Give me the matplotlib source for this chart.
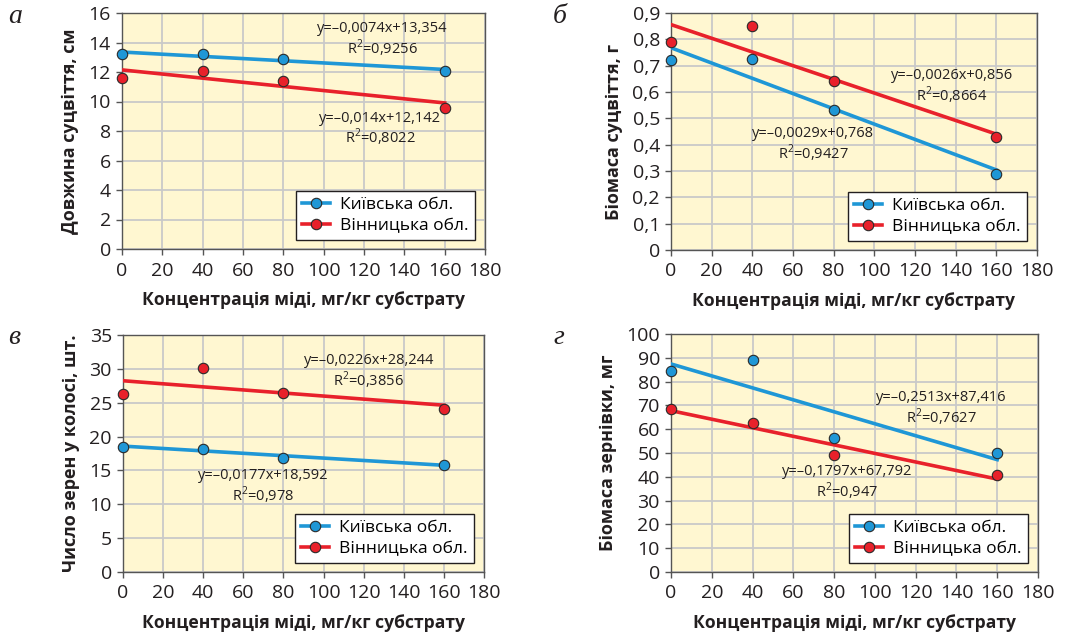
import matplotlib
matplotlib.use("Agg")
import matplotlib.pyplot as plt
import numpy as np

plt.rcParams['font.family'] = ['Open Sans', 'DejaVu Sans']
plt.rcParams['mathtext.fontset'] = 'custom'
plt.rcParams['mathtext.rm'] = 'Open Sans'

# concentration of copper, mg/kg
conc = [0, 40, 80, 160]

# panel а - inflorescence length, cm
len_kyiv = [13.25, 13.2, 12.9, 12.1]
len_vinn = [11.6, 12.05, 11.4, 9.55]
# panel б - inflorescence biomass, g
bio_kyiv = [0.72, 0.725, 0.53, 0.29]
bio_vinn = [0.79, 0.85, 0.64, 0.43]
# panel в - grains per ear
grain_kyiv = [18.5, 18.1, 16.9, 15.8]
grain_vinn = [26.3, 30.1, 26.5, 24.1]
# panel г - grain biomass, mg
gbio_kyiv = [84.5, 89.0, 56.3, 50.0]
gbio_vinn = [68.5, 62.5, 49.3, 40.7]

# trend lines (slope, intercept) as printed on the chart
trend_kyiv = [(-0.0074, 13.354), (-0.0029, 0.768), (-0.0177, 18.592), (-0.2513, 87.416)]
trend_vinn = [(-0.014, 12.142), (-0.0026, 0.856), (-0.0226, 28.244), (-0.1797, 67.792)]
r2_kyiv = ["0,9256", "0,9427", "0,978", "0,7627"]
r2_vinn = ["0,8022", "0,8664", "0,3856", "0,947"]

ylabels = ["Довжина суцвіття, см", "Біомаса суцвіття, г",
           "Число зерен у колосі, шт.", "Біомаса зернівки, мг"]
letters = ["а", "б", "в", "г"]
xlabel = "Концентрація міді, мг/кг субстрату"
legend_names = ["Київська обл.", "Вінницька обл."]

ylims = [(0, 16, 2), (0, 0.9, 0.1), (0, 35, 5), (0, 100, 10)]

BLUE = "#1f97d6"
RED = "#e8212b"
BG = "#fff7d1"
INK = "#231f20"

W, H = 1075, 634
fig = plt.figure(figsize=(W / 100, H / 100), dpi=100)

# axes boxes in pixels: left, top, right, bottom
boxes = [(122, 13, 485, 249), (671, 13, 1037, 250),
         (123, 335, 484, 572), (671, 334, 1038, 572)]
# label positions (data coords): kyiv eq, vinn eq
eq_pos = [((129, 14.15), (128, 8.1)),
          ((70, 0.40), (138, 0.62)),
          ((70, 12.6), (122.6, 29.6)),
          ((132.4, 68.3), (86.3, 37.2))]
letter_pos = [(8, 4), (553, 4), (8, 325), (553, 325)]


def fmt(v):
    return ("%g" % v).replace(".", ",").replace("-", "–")


def eq_text(slope, icpt, r2):
    return "y=%sx+%s\nR$^{2}$=%s" % (fmt(slope), fmt(icpt), r2)


datasets = [(len_kyiv, len_vinn), (bio_kyiv, bio_vinn),
            (grain_kyiv, grain_vinn), (gbio_kyiv, gbio_vinn)]

for i in range(4):
    l, t, r, b = boxes[i]
    ax = fig.add_axes([l / W, 1 - b / H, (r - l) / W, (b - t) / H])
    ax.set_facecolor(BG)
    lo, hi, step = ylims[i]
    ax.set_xlim(0, 180)
    ax.set_ylim(lo, hi)
    ax.set_xticks(np.arange(0, 181, 20))
    yt = np.arange(lo, hi + step / 2, step)
    ax.set_yticks(yt)
    if step < 1:
        ax.set_yticklabels([("%.1f" % v).replace(".", ",") if v != 0 else "0" for v in yt])
    ax.grid(True, color="#c9c9c9", lw=1.3)
    ax.set_axisbelow(True)
    for s in ax.spines.values():
        s.set_color("#555555")
        s.set_linewidth(1.0)
    ax.tick_params(labelsize=14, color="#555555", length=4, width=1,
                   labelcolor=INK)
    ax.tick_params(axis="x", pad=5)
    ax.tick_params(axis="y", pad=4)

    xs = np.array([conc[0], conc[-1]])
    sk, ik = trend_kyiv[i]
    sv, iv = trend_vinn[i]
    ax.plot(xs, sk * xs + ik, color=BLUE, lw=2.6, zorder=3)
    ax.plot(xs, sv * xs + iv, color=RED, lw=2.6, zorder=3)

    dk, dv = datasets[i]
    ax.plot(conc, dk, "o", color=BLUE, mec="#2a2a2a", mew=0.8, ms=7.5, zorder=4,
            clip_on=False)
    ax.plot(conc, dv, "o", color=RED, mec="#2a2a2a", mew=0.8, ms=7.5, zorder=4,
            clip_on=False)

    # legend handles
    hk, = ax.plot([], [], "-o", color=BLUE, mfc=BLUE, mec="#2a2a2a", mew=0.8,
                  ms=7.5, lw=2.6)
    hv, = ax.plot([], [], "-o", color=RED, mfc=RED, mec="#2a2a2a", mew=0.8,
                  ms=7.5, lw=2.6)
    leg = ax.legend([hk, hv], legend_names, loc="lower right",
                    bbox_to_anchor=(0.972, 0.038), borderaxespad=0,
                    fontsize=12.5, fancybox=False, framealpha=1,
                    edgecolor=INK, handlelength=1.6, borderpad=0.35,
                    labelspacing=0.25, handletextpad=0.6)
    leg.get_frame().set_linewidth(1.0)

    (xk, yk), (xv, yv) = eq_pos[i]
    ax.text(xk, yk, eq_text(sk, ik, r2_kyiv[i]), ha="center", va="center",
            fontsize=10.5, color=INK, linespacing=1.1, zorder=5)
    ax.text(xv, yv, eq_text(sv, iv, r2_vinn[i]), ha="center", va="center",
            fontsize=10.5, color=INK, linespacing=1.1, zorder=5)

    ax.set_xlabel(xlabel, fontsize=12.6, fontweight="bold", color=INK,
                  labelpad=8)
    ax.set_ylabel(ylabels[i], fontsize=13, fontweight="bold", color=INK,
                  labelpad=7)

    lx, ly = letter_pos[i]
    fig.text(lx / W, 1 - ly / H, letters[i], ha="left", va="top",
             fontsize=20, style="italic", family="Liberation Serif",
             color=INK)

fig.savefig("out.png", dpi=100)
